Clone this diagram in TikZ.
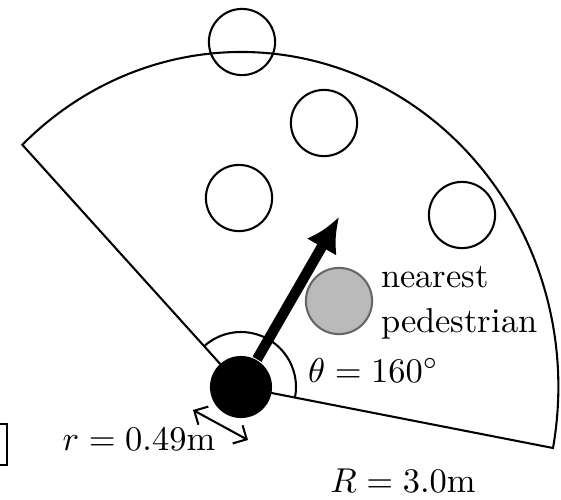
\documentclass[tikz,border=0pt]{standalone}
\usetikzlibrary{arrows.meta}

\begin{document}
\begin{tikzpicture}[
  x=0.29pt, y=0.29pt, line width=0.6pt, >=Latex,
  ped/.style={circle, draw, minimum size=19.2pt, inner sep=0pt},
  nearped/.style={ped, fill=black!27, draw=black!60},
  bot/.style={circle, fill=black, minimum size=18pt, inner sep=0pt},
  lbl/.style={inner sep=0pt, font=\normalsize},
  heading/.style={-{Latex[length=10pt, width=10pt]}, line width=3pt},
  span/.style={{Straight Barb[length=3pt, width=6pt]}-{Straight Barb[length=3pt, width=6pt]}, line width=0.6pt},
]
\useasboundingbox (0,0) rectangle (561,499);
\clip (0,0) rectangle (561,499);
% ---- sensing sector ----
\coordinate (c) at (241,112);
\draw (c) -- (553,51) arc[start angle=-10.5, end angle=133.7, x radius=317, y radius=335] -- cycle;
% ---- pedestrians ----
\node[ped] (pedA) at (242,457) {};
\node[ped] (pedB) at (324,376) {};
\node[ped] (pedC) at (462,284) {};
\node[ped] (pedD) at (239,301) {};
\node[nearped] (pedN) at (339,198) {};
% ---- robot + heading ----
\draw ([shift={(-11:55)}]c) arc[start angle=-11, end angle=132, radius=55];
\node[bot] (robot) at (c) {};
\coordinate (tip) at (339,282);
\draw[heading] (robot) -- (tip);
\coordinate (rA) at (193,89);
\coordinate (rB) at (248,59);
\draw[span] (rA) -- (rB);
% ---- labels ----
\node[lbl, align=left, anchor=base west] (nearlbl) at (380,167) {nearest\\[1pt]pedestrian};
\node[lbl, anchor=base west] (anglbl) at (307,117) {$\theta = 160^\circ$};
\node[lbl, anchor=base] (rlbl) at (139,49) {$r = 0.49\mathrm{m}$};
\node[lbl, anchor=base] (Rlbl) at (403,7) {$R = 3.0\mathrm{m}$};
% ---- stray frame at left edge ----
\draw (-10,34) rectangle (7,75);
\end{tikzpicture}
\end{document}
